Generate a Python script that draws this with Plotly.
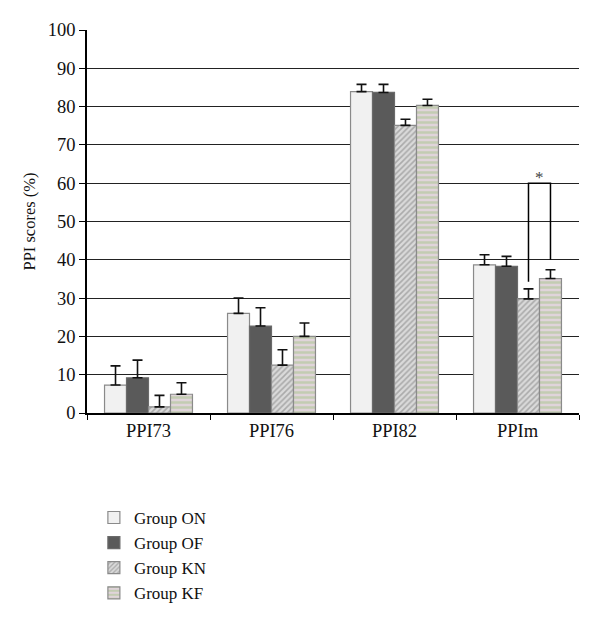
import plotly.graph_objects as go

categories = ["PPI73", "PPI76", "PPI82", "PPIm"]
groups = ["Group ON", "Group OF", "Group KN", "Group KF"]
means = {
    "Group ON": [7.3, 26.0, 83.9, 38.7],
    "Group OF": [9.2, 22.7, 83.7, 38.3],
    "Group KN": [1.6, 12.5, 75.1, 29.8],
    "Group KF": [4.9, 20.0, 80.3, 35.1],
}
errors = {
    "Group ON": [5.0, 4.0, 1.9, 2.6],
    "Group OF": [4.6, 4.8, 2.1, 2.6],
    "Group KN": [3.0, 4.0, 1.6, 2.6],
    "Group KF": [3.0, 3.5, 1.6, 2.3],
}
sig_bracket = {"category": 3, "from": "Group KN", "to": "Group KF",
               "y_top": 60, "y_left": 34.3, "y_right": 40, "label": "*"}

styles = {
    "Group ON": dict(color="#f1f1f1", line=dict(color="#8a8a8a", width=1.2)),
    "Group OF": dict(color="#5a5a5a", line=dict(color="#6a6a6a", width=1.2)),
    "Group KN": dict(color="#d0d0d0", line=dict(color="#8a8a8a", width=1.2),
                     pattern=dict(shape="/", fgcolor="#7a7a7a", bgcolor="#dadada", size=4, solidity=0.4)),
    "Group KF": dict(color="#d8e4c8", line=dict(color="#8a8a8a", width=1.2),
                     pattern=dict(shape="-", fgcolor="#a6c48a", bgcolor="#e0d4da", size=5, solidity=0.5)),
}

bargap = 0.285
fig = go.Figure()
for g in groups:
    fig.add_trace(go.Bar(
        name=g, x=categories, y=means[g], marker=styles[g],
        error_y=dict(type="data", symmetric=False, array=errors[g],
                     arrayminus=[0] * len(categories), color="#111111",
                     thickness=1.6, width=5),
    ))

# significance bracket
bw = (1 - bargap) / len(groups)
def xcenter(cat, g):
    i = groups.index(g)
    return cat - (1 - bargap) / 2 + bw * (i + 0.5)
xl = xcenter(sig_bracket["category"], sig_bracket["from"])
xr = xcenter(sig_bracket["category"], sig_bracket["to"])
yt = sig_bracket["y_top"]
fig.add_shape(type="path",
              path=f"M {xl},{sig_bracket['y_left']} L {xl},{yt} L {xr},{yt} L {xr},{sig_bracket['y_right']}",
              xref="x", yref="y", line=dict(color="black", width=1.5))
fig.add_annotation(x=(xl + xr) / 2, y=yt, text=sig_bracket["label"], showarrow=False,
                   yanchor="bottom", yshift=-6, font=dict(size=17, color="#444"))

font = "Liberation Serif, Times New Roman, serif"
fig.update_layout(
    width=600, height=625,
    margin=dict(l=79, r=29, t=22, b=220),
    paper_bgcolor="white", plot_bgcolor="white",
    barmode="group", bargap=bargap, bargroupgap=0,
    font=dict(family=font, size=18.5, color="#111"),
    showlegend=True,
    legend=dict(x=0.014, y=-0.227, xanchor="left", yanchor="top",
                font=dict(size=17, family=font), tracegroupgap=0,
                itemwidth=30, bgcolor="rgba(0,0,0,0)"),
    xaxis=dict(type="category", showline=True, linecolor="black", linewidth=1.5,
               ticks="outside", tickson="boundaries", ticklen=5, tickcolor="black",
               showgrid=False, tickfont=dict(size=18.5)),
    yaxis=dict(range=[0, 100], dtick=10, showline=True, linecolor="black", linewidth=1.5,
               ticks="outside", ticklen=6, tickcolor="black",
               showgrid=True, gridcolor="#222", gridwidth=1, zeroline=False,
               title=dict(text="PPI scores (%)", font=dict(size=16.5), standoff=8),
               tickfont=dict(size=18.5)),
)
fig.write_html("out.html")
